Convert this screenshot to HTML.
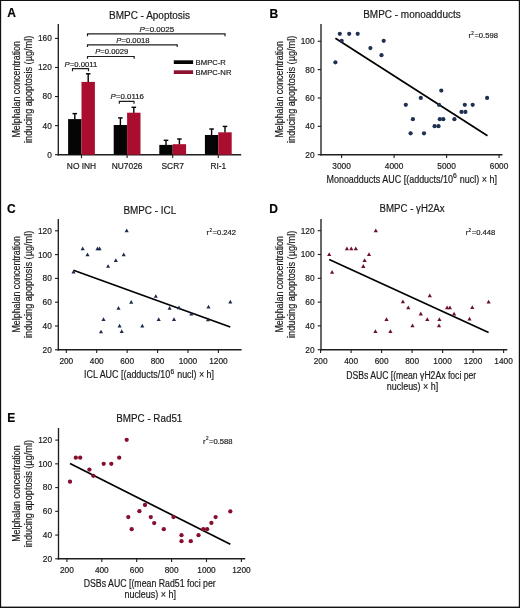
<!DOCTYPE html>
<html><head><meta charset="utf-8"><title>BMPC figure</title>
<style>
html,body{margin:0;padding:0;background:#fff;}
body{width:520px;height:608px;overflow:hidden;}
svg{display:block;font-family:"Liberation Sans", sans-serif;will-change:transform;}
text{stroke:#1a1a1a;stroke-width:0.18px;}
</style></head>
<body>
<svg width="520" height="608" viewBox="0 0 520 608">
<rect x="0" y="0" width="520" height="608" fill="#fff"/>
<rect x="0" y="0" width="520" height="1" fill="#111"/>
<rect x="0" y="0" width="1.15" height="608" fill="#111"/>
<rect x="518.8" y="0" width="1.2" height="608" fill="#111"/>
<rect x="0" y="606.6" width="520" height="1.4" fill="#111"/>
<text x="7.2" y="17.4" font-size="12" text-anchor="start" font-weight="bold" font-style="normal" fill="#000">A</text>
<text x="109" y="18.9" font-size="10" text-anchor="start" font-weight="normal" font-style="normal" fill="#1a1a1a" textLength="81" lengthAdjust="spacingAndGlyphs">BMPC - Apoptosis</text>
<text transform="translate(20.2,89.3) rotate(-90)" font-size="10" text-anchor="middle" fill="#1a1a1a" textLength="96.5" lengthAdjust="spacingAndGlyphs">Melphalan concentration</text>
<text transform="translate(31.6,89.3) rotate(-90)" font-size="10" text-anchor="middle" fill="#1a1a1a" textLength="107.3" lengthAdjust="spacingAndGlyphs">inducing apoptosis (µg/ml)</text>
<line x1="58.3" y1="24" x2="58.3" y2="155.375" stroke="#1e1e1e" stroke-width="1.35"/>
<line x1="55.0" y1="154.7" x2="58.3" y2="154.7" stroke="#1e1e1e" stroke-width="1.1"/>
<text x="51.8" y="157.6" font-size="8.3" text-anchor="end" font-weight="normal" font-style="normal" fill="#1a1a1a">0</text>
<line x1="55.0" y1="125.62799999999999" x2="58.3" y2="125.62799999999999" stroke="#1e1e1e" stroke-width="1.1"/>
<text x="51.8" y="128.53" font-size="8.3" text-anchor="end" font-weight="normal" font-style="normal" fill="#1a1a1a">40</text>
<line x1="55.0" y1="96.55599999999998" x2="58.3" y2="96.55599999999998" stroke="#1e1e1e" stroke-width="1.1"/>
<text x="51.8" y="99.46" font-size="8.3" text-anchor="end" font-weight="normal" font-style="normal" fill="#1a1a1a">80</text>
<line x1="55.0" y1="67.484" x2="58.3" y2="67.484" stroke="#1e1e1e" stroke-width="1.1"/>
<text x="51.8" y="70.38" font-size="8.3" text-anchor="end" font-weight="normal" font-style="normal" fill="#1a1a1a">120</text>
<line x1="55.0" y1="38.41199999999999" x2="58.3" y2="38.41199999999999" stroke="#1e1e1e" stroke-width="1.1"/>
<text x="51.8" y="41.31" font-size="8.3" text-anchor="end" font-weight="normal" font-style="normal" fill="#1a1a1a">160</text>
<line x1="57.574999999999996" y1="154.7" x2="241.2" y2="154.7" stroke="#1e1e1e" stroke-width="1.45"/>
<line x1="81.5" y1="154.7" x2="81.5" y2="158.1" stroke="#1e1e1e" stroke-width="1.1"/>
<text x="81.5" y="169.2" font-size="8.4" text-anchor="middle" font-weight="normal" font-style="normal" fill="#1a1a1a">NO INH</text>
<line x1="127.1" y1="154.7" x2="127.1" y2="158.1" stroke="#1e1e1e" stroke-width="1.1"/>
<text x="127.1" y="169.2" font-size="8.4" text-anchor="middle" font-weight="normal" font-style="normal" fill="#1a1a1a">NU7026</text>
<line x1="172.7" y1="154.7" x2="172.7" y2="158.1" stroke="#1e1e1e" stroke-width="1.1"/>
<text x="172.7" y="169.2" font-size="8.4" text-anchor="middle" font-weight="normal" font-style="normal" fill="#1a1a1a">SCR7</text>
<line x1="218.3" y1="154.7" x2="218.3" y2="158.1" stroke="#1e1e1e" stroke-width="1.1"/>
<text x="218.3" y="169.2" font-size="8.4" text-anchor="middle" font-weight="normal" font-style="normal" fill="#1a1a1a">RI-1</text>
<line x1="74.8" y1="119.6" x2="74.8" y2="113.6" stroke="#000" stroke-width="1.4"/>
<line x1="72.5" y1="113.6" x2="77.1" y2="113.6" stroke="#000" stroke-width="1.4"/>
<line x1="88.2" y1="82.4" x2="88.2" y2="73.8" stroke="#000" stroke-width="1.4"/>
<line x1="85.9" y1="73.8" x2="90.5" y2="73.8" stroke="#000" stroke-width="1.4"/>
<rect x="68.1" y="119.1" width="13.4" height="35.599999999999994" fill="#050505"/>
<rect x="81.5" y="81.9" width="13.4" height="72.79999999999998" fill="#aa0e2f"/>
<line x1="120.39999999999999" y1="125.5" x2="120.39999999999999" y2="117.9" stroke="#000" stroke-width="1.4"/>
<line x1="118.1" y1="117.9" x2="122.69999999999999" y2="117.9" stroke="#000" stroke-width="1.4"/>
<line x1="133.79999999999998" y1="113.2" x2="133.79999999999998" y2="107.3" stroke="#000" stroke-width="1.4"/>
<line x1="131.49999999999997" y1="107.3" x2="136.1" y2="107.3" stroke="#000" stroke-width="1.4"/>
<rect x="113.69999999999999" y="125.0" width="13.4" height="29.69999999999999" fill="#050505"/>
<rect x="127.1" y="112.7" width="13.4" height="41.999999999999986" fill="#aa0e2f"/>
<line x1="166.0" y1="145.4" x2="166.0" y2="140.3" stroke="#000" stroke-width="1.4"/>
<line x1="163.7" y1="140.3" x2="168.3" y2="140.3" stroke="#000" stroke-width="1.4"/>
<line x1="179.39999999999998" y1="144.7" x2="179.39999999999998" y2="139.0" stroke="#000" stroke-width="1.4"/>
<line x1="177.09999999999997" y1="139.0" x2="181.7" y2="139.0" stroke="#000" stroke-width="1.4"/>
<rect x="159.29999999999998" y="144.9" width="13.4" height="9.799999999999983" fill="#050505"/>
<rect x="172.7" y="144.2" width="13.4" height="10.5" fill="#aa0e2f"/>
<line x1="211.60000000000002" y1="135.5" x2="211.60000000000002" y2="129.0" stroke="#000" stroke-width="1.4"/>
<line x1="209.3" y1="129.0" x2="213.90000000000003" y2="129.0" stroke="#000" stroke-width="1.4"/>
<line x1="225.0" y1="132.8" x2="225.0" y2="126.4" stroke="#000" stroke-width="1.4"/>
<line x1="222.7" y1="126.4" x2="227.3" y2="126.4" stroke="#000" stroke-width="1.4"/>
<rect x="204.9" y="135.0" width="13.4" height="19.69999999999999" fill="#050505"/>
<rect x="218.3" y="132.3" width="13.4" height="22.399999999999977" fill="#aa0e2f"/>
<path d="M72.5 71.19999999999999 V68.6 H88.5 V71.19999999999999" fill="none" stroke="#1e1e1e" stroke-width="1.2"/>
<path d="M119.3 103.80000000000001 V101.4 H134 V103.80000000000001" fill="none" stroke="#1e1e1e" stroke-width="1.2"/>
<path d="M87.5 58.8 V56.5 H134.2 V58.8" fill="none" stroke="#1e1e1e" stroke-width="1.2"/>
<path d="M87.5 47.099999999999994 V44.8 H177.2 V47.099999999999994" fill="none" stroke="#1e1e1e" stroke-width="1.2"/>
<path d="M87.5 36.199999999999996 V33.9 H225 V36.199999999999996" fill="none" stroke="#1e1e1e" stroke-width="1.2"/>
<text x="64.6" y="66.8" font-size="7.5" fill="#1a1a1a" textLength="32.6" lengthAdjust="spacingAndGlyphs"><tspan font-style="italic">P</tspan>=0.0011</text>
<text x="110.6" y="98.7" font-size="7.5" fill="#1a1a1a" textLength="33.4" lengthAdjust="spacingAndGlyphs"><tspan font-style="italic">P</tspan>=0.0116</text>
<text x="95.2" y="54.0" font-size="7.5" fill="#1a1a1a" textLength="33.0" lengthAdjust="spacingAndGlyphs"><tspan font-style="italic">P</tspan>=0.0029</text>
<text x="116.3" y="42.5" font-size="7.5" fill="#1a1a1a" textLength="33.2" lengthAdjust="spacingAndGlyphs"><tspan font-style="italic">P</tspan>=0.0018</text>
<text x="139.6" y="31.5" font-size="7.5" fill="#1a1a1a" textLength="34.6" lengthAdjust="spacingAndGlyphs"><tspan font-style="italic">P</tspan>=0.0025</text>
<rect x="173.8" y="60.3" width="19.3" height="3.7" fill="#050505"/>
<rect x="173.8" y="70.3" width="19.3" height="3.7" fill="#8e1230"/>
<text x="195.6" y="64.8" font-size="7.7" text-anchor="start" font-weight="normal" font-style="normal" fill="#1a1a1a">BMPC-R</text>
<text x="195.6" y="74.8" font-size="7.7" text-anchor="start" font-weight="normal" font-style="normal" fill="#1a1a1a">BMPC-NR</text>
<text x="269.6" y="17.5" font-size="12" text-anchor="start" font-weight="bold" font-style="normal" fill="#000">B</text>
<text x="363.2" y="18.2" font-size="10" text-anchor="start" font-weight="normal" font-style="normal" fill="#1a1a1a" textLength="97.5" lengthAdjust="spacingAndGlyphs">BMPC - monoadducts</text>
<text transform="translate(283.2,89.3) rotate(-90)" font-size="10" text-anchor="middle" fill="#1a1a1a" textLength="96.5" lengthAdjust="spacingAndGlyphs">Melphalan concentration</text>
<text transform="translate(294.6,89.3) rotate(-90)" font-size="10" text-anchor="middle" fill="#1a1a1a" textLength="107.3" lengthAdjust="spacingAndGlyphs">inducing apoptosis (µg/ml)</text>
<line x1="321" y1="24" x2="321" y2="155.375" stroke="#1e1e1e" stroke-width="1.35"/>
<line x1="317.7" y1="154.7" x2="321" y2="154.7" stroke="#1e1e1e" stroke-width="1.1"/>
<text x="314.5" y="157.6" font-size="8.3" text-anchor="end" font-weight="normal" font-style="normal" fill="#1a1a1a">20</text>
<line x1="317.7" y1="126.33999999999999" x2="321" y2="126.33999999999999" stroke="#1e1e1e" stroke-width="1.1"/>
<text x="314.5" y="129.24" font-size="8.3" text-anchor="end" font-weight="normal" font-style="normal" fill="#1a1a1a">40</text>
<line x1="317.7" y1="97.97999999999999" x2="321" y2="97.97999999999999" stroke="#1e1e1e" stroke-width="1.1"/>
<text x="314.5" y="100.88" font-size="8.3" text-anchor="end" font-weight="normal" font-style="normal" fill="#1a1a1a">60</text>
<line x1="317.7" y1="69.61999999999999" x2="321" y2="69.61999999999999" stroke="#1e1e1e" stroke-width="1.1"/>
<text x="314.5" y="72.52" font-size="8.3" text-anchor="end" font-weight="normal" font-style="normal" fill="#1a1a1a">80</text>
<line x1="317.7" y1="41.25999999999999" x2="321" y2="41.25999999999999" stroke="#1e1e1e" stroke-width="1.1"/>
<text x="314.5" y="44.16" font-size="8.3" text-anchor="end" font-weight="normal" font-style="normal" fill="#1a1a1a">100</text>
<line x1="320.275" y1="154.7" x2="502.5" y2="154.7" stroke="#1e1e1e" stroke-width="1.45"/>
<line x1="341.6" y1="154.7" x2="341.6" y2="158.0" stroke="#1e1e1e" stroke-width="1.1"/>
<text x="341.6" y="168.5" font-size="8.3" text-anchor="middle" font-weight="normal" font-style="normal" fill="#1a1a1a">3000</text>
<line x1="394.1" y1="154.7" x2="394.1" y2="158.0" stroke="#1e1e1e" stroke-width="1.1"/>
<text x="394.1" y="168.5" font-size="8.3" text-anchor="middle" font-weight="normal" font-style="normal" fill="#1a1a1a">4000</text>
<line x1="446.6" y1="154.7" x2="446.6" y2="158.0" stroke="#1e1e1e" stroke-width="1.1"/>
<text x="446.6" y="168.5" font-size="8.3" text-anchor="middle" font-weight="normal" font-style="normal" fill="#1a1a1a">5000</text>
<line x1="499.1" y1="154.7" x2="499.1" y2="158.0" stroke="#1e1e1e" stroke-width="1.1"/>
<text x="499.1" y="168.5" font-size="8.3" text-anchor="middle" font-weight="normal" font-style="normal" fill="#1a1a1a">6000</text>
<text x="326.45" y="182.6" font-size="10" fill="#1a1a1a" textLength="126.6" lengthAdjust="spacingAndGlyphs">Monoadducts AUC [(adducts/10</text>
<text x="453.1" y="178.3" font-size="6.8" text-anchor="start" font-weight="normal" font-style="normal" fill="#1a1a1a">6</text>
<text x="459.8" y="182.6" font-size="10" fill="#1a1a1a" textLength="37.3" lengthAdjust="spacingAndGlyphs">nucl) × h]</text>
<line x1="335.4" y1="38.3" x2="487.5" y2="135.8" stroke="#000" stroke-width="1.7"/>
<circle cx="339.8" cy="33.8" r="2.1" fill="#1f3050"/>
<circle cx="349.2" cy="33.8" r="2.1" fill="#1f3050"/>
<circle cx="357.7" cy="33.8" r="2.1" fill="#1f3050"/>
<circle cx="341.7" cy="40.8" r="2.1" fill="#1f3050"/>
<circle cx="383.7" cy="40.8" r="2.1" fill="#1f3050"/>
<circle cx="370.4" cy="48.1" r="2.1" fill="#1f3050"/>
<circle cx="381.5" cy="55.2" r="2.1" fill="#1f3050"/>
<circle cx="335.4" cy="62.3" r="2.1" fill="#1f3050"/>
<circle cx="441.3" cy="90.6" r="2.1" fill="#1f3050"/>
<circle cx="420.8" cy="97.9" r="2.1" fill="#1f3050"/>
<circle cx="487.1" cy="97.9" r="2.1" fill="#1f3050"/>
<circle cx="405.8" cy="104.8" r="2.1" fill="#1f3050"/>
<circle cx="439" cy="104.8" r="2.1" fill="#1f3050"/>
<circle cx="464.8" cy="104.8" r="2.1" fill="#1f3050"/>
<circle cx="472.7" cy="104.8" r="2.1" fill="#1f3050"/>
<circle cx="461.5" cy="111.9" r="2.1" fill="#1f3050"/>
<circle cx="465.4" cy="111.9" r="2.1" fill="#1f3050"/>
<circle cx="412.9" cy="119.2" r="2.1" fill="#1f3050"/>
<circle cx="439.8" cy="119.2" r="2.1" fill="#1f3050"/>
<circle cx="443.3" cy="119.2" r="2.1" fill="#1f3050"/>
<circle cx="454.4" cy="119.2" r="2.1" fill="#1f3050"/>
<circle cx="434.6" cy="126.2" r="2.1" fill="#1f3050"/>
<circle cx="438.5" cy="126.2" r="2.1" fill="#1f3050"/>
<circle cx="410.6" cy="133.3" r="2.1" fill="#1f3050"/>
<circle cx="424" cy="133.3" r="2.1" fill="#1f3050"/>
<text x="468.4" y="37.7" font-size="7.6" fill="#1a1a1a">r</text>
<text x="471.30" y="34.60" font-size="4.56" fill="#1a1a1a">2</text>
<text x="474.40" y="37.7" font-size="7.6" fill="#1a1a1a" textLength="23.6" lengthAdjust="spacingAndGlyphs">=0.598</text>
<text x="6.9" y="212.7" font-size="12" text-anchor="start" font-weight="bold" font-style="normal" fill="#000">C</text>
<text x="123.4" y="213.5" font-size="10" text-anchor="start" font-weight="normal" font-style="normal" fill="#1a1a1a" textLength="52.8" lengthAdjust="spacingAndGlyphs">BMPC - ICL</text>
<text transform="translate(20.2,284.3) rotate(-90)" font-size="10" text-anchor="middle" fill="#1a1a1a" textLength="96.5" lengthAdjust="spacingAndGlyphs">Melphalan concentration</text>
<text transform="translate(31.6,284.3) rotate(-90)" font-size="10" text-anchor="middle" fill="#1a1a1a" textLength="107.3" lengthAdjust="spacingAndGlyphs">inducing apoptosis (µg/ml)</text>
<line x1="58.3" y1="219" x2="58.3" y2="350.475" stroke="#1e1e1e" stroke-width="1.35"/>
<line x1="55.0" y1="349.8" x2="58.3" y2="349.8" stroke="#1e1e1e" stroke-width="1.1"/>
<text x="51.8" y="352.7" font-size="8.3" text-anchor="end" font-weight="normal" font-style="normal" fill="#1a1a1a">20</text>
<line x1="55.0" y1="326.0" x2="58.3" y2="326.0" stroke="#1e1e1e" stroke-width="1.1"/>
<text x="51.8" y="328.9" font-size="8.3" text-anchor="end" font-weight="normal" font-style="normal" fill="#1a1a1a">40</text>
<line x1="55.0" y1="302.20000000000005" x2="58.3" y2="302.20000000000005" stroke="#1e1e1e" stroke-width="1.1"/>
<text x="51.8" y="305.1" font-size="8.3" text-anchor="end" font-weight="normal" font-style="normal" fill="#1a1a1a">60</text>
<line x1="55.0" y1="278.40000000000003" x2="58.3" y2="278.40000000000003" stroke="#1e1e1e" stroke-width="1.1"/>
<text x="51.8" y="281.3" font-size="8.3" text-anchor="end" font-weight="normal" font-style="normal" fill="#1a1a1a">80</text>
<line x1="55.0" y1="254.60000000000002" x2="58.3" y2="254.60000000000002" stroke="#1e1e1e" stroke-width="1.1"/>
<text x="51.8" y="257.5" font-size="8.3" text-anchor="end" font-weight="normal" font-style="normal" fill="#1a1a1a">100</text>
<line x1="55.0" y1="230.8" x2="58.3" y2="230.8" stroke="#1e1e1e" stroke-width="1.1"/>
<text x="51.8" y="233.7" font-size="8.3" text-anchor="end" font-weight="normal" font-style="normal" fill="#1a1a1a">120</text>
<line x1="57.574999999999996" y1="349.8" x2="241.6" y2="349.8" stroke="#1e1e1e" stroke-width="1.45"/>
<line x1="66.3" y1="349.8" x2="66.3" y2="353.1" stroke="#1e1e1e" stroke-width="1.1"/>
<text x="66.3" y="364.0" font-size="8.3" text-anchor="middle" font-weight="normal" font-style="normal" fill="#1a1a1a">200</text>
<line x1="96.72" y1="349.8" x2="96.72" y2="353.1" stroke="#1e1e1e" stroke-width="1.1"/>
<text x="96.72" y="364.0" font-size="8.3" text-anchor="middle" font-weight="normal" font-style="normal" fill="#1a1a1a">400</text>
<line x1="127.14" y1="349.8" x2="127.14" y2="353.1" stroke="#1e1e1e" stroke-width="1.1"/>
<text x="127.14" y="364.0" font-size="8.3" text-anchor="middle" font-weight="normal" font-style="normal" fill="#1a1a1a">600</text>
<line x1="157.56" y1="349.8" x2="157.56" y2="353.1" stroke="#1e1e1e" stroke-width="1.1"/>
<text x="157.56" y="364.0" font-size="8.3" text-anchor="middle" font-weight="normal" font-style="normal" fill="#1a1a1a">800</text>
<line x1="187.98000000000002" y1="349.8" x2="187.98000000000002" y2="353.1" stroke="#1e1e1e" stroke-width="1.1"/>
<text x="187.98000000000002" y="364.0" font-size="8.3" text-anchor="middle" font-weight="normal" font-style="normal" fill="#1a1a1a">1000</text>
<line x1="218.40000000000003" y1="349.8" x2="218.40000000000003" y2="353.1" stroke="#1e1e1e" stroke-width="1.1"/>
<text x="218.40000000000003" y="364.0" font-size="8.3" text-anchor="middle" font-weight="normal" font-style="normal" fill="#1a1a1a">1200</text>
<text x="84.1" y="378.1" font-size="10" fill="#1a1a1a" textLength="86" lengthAdjust="spacingAndGlyphs">ICL AUC [(adducts/10</text>
<text x="170.4" y="374.3" font-size="6.8" text-anchor="start" font-weight="normal" font-style="normal" fill="#1a1a1a">6</text>
<text x="177.2" y="378.1" font-size="10" fill="#1a1a1a" textLength="36.8" lengthAdjust="spacingAndGlyphs">nucl) × h]</text>
<line x1="73.5" y1="270.2" x2="230.3" y2="327" stroke="#000" stroke-width="1.7"/>
<path d="M71.45 273.55 L73.50 269.85 L75.55 273.55Z" fill="#1c2a4c"/>
<path d="M80.65 250.15 L82.70 246.46 L84.75 250.15Z" fill="#1c2a4c"/>
<path d="M85.45 256.25 L87.50 252.56 L89.55 256.25Z" fill="#1c2a4c"/>
<path d="M95.45 250.15 L97.50 246.46 L99.55 250.15Z" fill="#1c2a4c"/>
<path d="M97.55 250.15 L99.60 246.46 L101.65 250.15Z" fill="#1c2a4c"/>
<path d="M124.65 232.25 L126.70 228.56 L128.75 232.25Z" fill="#1c2a4c"/>
<path d="M121.65 256.25 L123.70 252.56 L125.75 256.25Z" fill="#1c2a4c"/>
<path d="M113.75 262.05 L115.80 258.35 L117.85 262.05Z" fill="#1c2a4c"/>
<path d="M106.05 267.85 L108.10 264.15 L110.15 267.85Z" fill="#1c2a4c"/>
<path d="M153.75 297.85 L155.80 294.15 L157.85 297.85Z" fill="#1c2a4c"/>
<path d="M129.15 303.75 L131.20 300.05 L133.25 303.75Z" fill="#1c2a4c"/>
<path d="M116.45 309.75 L118.50 306.05 L120.55 309.75Z" fill="#1c2a4c"/>
<path d="M167.55 309.75 L169.60 306.05 L171.65 309.75Z" fill="#1c2a4c"/>
<path d="M176.95 309.15 L179.00 305.45 L181.05 309.15Z" fill="#1c2a4c"/>
<path d="M189.25 315.55 L191.30 311.85 L193.35 315.55Z" fill="#1c2a4c"/>
<path d="M101.45 321.05 L103.50 317.35 L105.55 321.05Z" fill="#1c2a4c"/>
<path d="M156.65 321.05 L158.70 317.35 L160.75 321.05Z" fill="#1c2a4c"/>
<path d="M171.95 321.05 L174.00 317.35 L176.05 321.05Z" fill="#1c2a4c"/>
<path d="M117.55 327.45 L119.60 323.75 L121.65 327.45Z" fill="#1c2a4c"/>
<path d="M140.25 327.45 L142.30 323.75 L144.35 327.45Z" fill="#1c2a4c"/>
<path d="M98.95 333.35 L101.00 329.65 L103.05 333.35Z" fill="#1c2a4c"/>
<path d="M119.65 333.05 L121.70 329.35 L123.75 333.05Z" fill="#1c2a4c"/>
<path d="M228.25 303.45 L230.30 299.75 L232.35 303.45Z" fill="#1c2a4c"/>
<path d="M206.45 308.55 L208.50 304.85 L210.55 308.55Z" fill="#1c2a4c"/>
<path d="M205.95 321.25 L208.00 317.55 L210.05 321.25Z" fill="#1c2a4c"/>
<text x="206.5" y="235.3" font-size="7.6" fill="#1a1a1a">r</text>
<text x="209.40" y="232.20" font-size="4.56" fill="#1a1a1a">2</text>
<text x="212.50" y="235.3" font-size="7.6" fill="#1a1a1a" textLength="23.6" lengthAdjust="spacingAndGlyphs">=0.242</text>
<text x="269.3" y="212.7" font-size="12" text-anchor="start" font-weight="bold" font-style="normal" fill="#000">D</text>
<text x="379.6" y="212.4" font-size="10" text-anchor="start" font-weight="normal" font-style="normal" fill="#1a1a1a" textLength="65" lengthAdjust="spacingAndGlyphs">BMPC - γH2Ax</text>
<text transform="translate(283.2,284.3) rotate(-90)" font-size="10" text-anchor="middle" fill="#1a1a1a" textLength="96.5" lengthAdjust="spacingAndGlyphs">Melphalan concentration</text>
<text transform="translate(294.6,284.3) rotate(-90)" font-size="10" text-anchor="middle" fill="#1a1a1a" textLength="107.3" lengthAdjust="spacingAndGlyphs">inducing apoptosis (µg/ml)</text>
<line x1="321" y1="219" x2="321" y2="350.375" stroke="#1e1e1e" stroke-width="1.35"/>
<line x1="317.7" y1="349.7" x2="321" y2="349.7" stroke="#1e1e1e" stroke-width="1.1"/>
<text x="314.5" y="352.6" font-size="8.3" text-anchor="end" font-weight="normal" font-style="normal" fill="#1a1a1a">20</text>
<line x1="317.7" y1="325.9" x2="321" y2="325.9" stroke="#1e1e1e" stroke-width="1.1"/>
<text x="314.5" y="328.8" font-size="8.3" text-anchor="end" font-weight="normal" font-style="normal" fill="#1a1a1a">40</text>
<line x1="317.7" y1="302.1" x2="321" y2="302.1" stroke="#1e1e1e" stroke-width="1.1"/>
<text x="314.5" y="305.0" font-size="8.3" text-anchor="end" font-weight="normal" font-style="normal" fill="#1a1a1a">60</text>
<line x1="317.7" y1="278.3" x2="321" y2="278.3" stroke="#1e1e1e" stroke-width="1.1"/>
<text x="314.5" y="281.2" font-size="8.3" text-anchor="end" font-weight="normal" font-style="normal" fill="#1a1a1a">80</text>
<line x1="317.7" y1="254.5" x2="321" y2="254.5" stroke="#1e1e1e" stroke-width="1.1"/>
<text x="314.5" y="257.4" font-size="8.3" text-anchor="end" font-weight="normal" font-style="normal" fill="#1a1a1a">100</text>
<line x1="317.7" y1="230.7" x2="321" y2="230.7" stroke="#1e1e1e" stroke-width="1.1"/>
<text x="314.5" y="233.6" font-size="8.3" text-anchor="end" font-weight="normal" font-style="normal" fill="#1a1a1a">120</text>
<line x1="320.275" y1="349.7" x2="507.3" y2="349.7" stroke="#1e1e1e" stroke-width="1.45"/>
<line x1="320.6" y1="349.7" x2="320.6" y2="353.0" stroke="#1e1e1e" stroke-width="1.1"/>
<text x="320.6" y="363.5" font-size="8.3" text-anchor="middle" font-weight="normal" font-style="normal" fill="#1a1a1a">200</text>
<line x1="351.1" y1="349.7" x2="351.1" y2="353.0" stroke="#1e1e1e" stroke-width="1.1"/>
<text x="351.1" y="363.5" font-size="8.3" text-anchor="middle" font-weight="normal" font-style="normal" fill="#1a1a1a">400</text>
<line x1="381.6" y1="349.7" x2="381.6" y2="353.0" stroke="#1e1e1e" stroke-width="1.1"/>
<text x="381.6" y="363.5" font-size="8.3" text-anchor="middle" font-weight="normal" font-style="normal" fill="#1a1a1a">600</text>
<line x1="412.1" y1="349.7" x2="412.1" y2="353.0" stroke="#1e1e1e" stroke-width="1.1"/>
<text x="412.1" y="363.5" font-size="8.3" text-anchor="middle" font-weight="normal" font-style="normal" fill="#1a1a1a">800</text>
<line x1="442.6" y1="349.7" x2="442.6" y2="353.0" stroke="#1e1e1e" stroke-width="1.1"/>
<text x="442.6" y="363.5" font-size="8.3" text-anchor="middle" font-weight="normal" font-style="normal" fill="#1a1a1a">1000</text>
<line x1="473.1" y1="349.7" x2="473.1" y2="353.0" stroke="#1e1e1e" stroke-width="1.1"/>
<text x="473.1" y="363.5" font-size="8.3" text-anchor="middle" font-weight="normal" font-style="normal" fill="#1a1a1a">1200</text>
<line x1="503.6" y1="349.7" x2="503.6" y2="353.0" stroke="#1e1e1e" stroke-width="1.1"/>
<text x="503.6" y="363.5" font-size="8.3" text-anchor="middle" font-weight="normal" font-style="normal" fill="#1a1a1a">1400</text>
<text x="411.2" y="378.6" font-size="10" text-anchor="middle" font-weight="normal" font-style="normal" fill="#1a1a1a" textLength="130" lengthAdjust="spacingAndGlyphs">DSBs AUC [(mean γH2Ax foci per</text>
<text x="412.5" y="389.5" font-size="10" text-anchor="middle" font-weight="normal" font-style="normal" fill="#1a1a1a" textLength="51.5" lengthAdjust="spacingAndGlyphs">nucleus) × h]</text>
<line x1="329.2" y1="259.6" x2="488.6" y2="332.5" stroke="#000" stroke-width="1.7"/>
<path d="M327.10 256.09 L329.20 252.31 L331.30 256.09Z" fill="#6c0e2d"/>
<path d="M330.00 273.79 L332.10 270.01 L334.20 273.79Z" fill="#6c0e2d"/>
<path d="M344.80 250.19 L346.90 246.41 L349.00 250.19Z" fill="#6c0e2d"/>
<path d="M349.20 250.19 L351.30 246.41 L353.40 250.19Z" fill="#6c0e2d"/>
<path d="M353.70 250.19 L355.80 246.41 L357.90 250.19Z" fill="#6c0e2d"/>
<path d="M373.70 232.29 L375.80 228.51 L377.90 232.29Z" fill="#6c0e2d"/>
<path d="M366.90 256.09 L369.00 252.31 L371.10 256.09Z" fill="#6c0e2d"/>
<path d="M362.50 262.09 L364.60 258.31 L366.70 262.09Z" fill="#6c0e2d"/>
<path d="M361.20 267.89 L363.30 264.11 L365.40 267.89Z" fill="#6c0e2d"/>
<path d="M373.30 333.09 L375.40 329.31 L377.50 333.09Z" fill="#6c0e2d"/>
<path d="M384.40 321.09 L386.50 317.31 L388.60 321.09Z" fill="#6c0e2d"/>
<path d="M388.30 333.09 L390.40 329.31 L392.50 333.09Z" fill="#6c0e2d"/>
<path d="M400.80 303.19 L402.90 299.41 L405.00 303.19Z" fill="#6c0e2d"/>
<path d="M406.20 309.19 L408.30 305.41 L410.40 309.19Z" fill="#6c0e2d"/>
<path d="M410.40 327.29 L412.50 323.51 L414.60 327.29Z" fill="#6c0e2d"/>
<path d="M418.70 315.39 L420.80 311.61 L422.90 315.39Z" fill="#6c0e2d"/>
<path d="M425.20 321.09 L427.30 317.31 L429.40 321.09Z" fill="#6c0e2d"/>
<path d="M427.70 297.29 L429.80 293.51 L431.90 297.29Z" fill="#6c0e2d"/>
<path d="M437.30 321.09 L439.40 317.31 L441.50 321.09Z" fill="#6c0e2d"/>
<path d="M436.90 327.29 L439.00 323.51 L441.10 327.29Z" fill="#6c0e2d"/>
<path d="M445.00 309.19 L447.10 305.41 L449.20 309.19Z" fill="#6c0e2d"/>
<path d="M447.80 309.19 L449.90 305.41 L452.00 309.19Z" fill="#6c0e2d"/>
<path d="M452.00 315.49 L454.10 311.71 L456.20 315.49Z" fill="#6c0e2d"/>
<path d="M467.40 320.59 L469.50 316.81 L471.60 320.59Z" fill="#6c0e2d"/>
<path d="M470.20 308.99 L472.30 305.21 L474.40 308.99Z" fill="#6c0e2d"/>
<path d="M486.50 303.49 L488.60 299.71 L490.70 303.49Z" fill="#6c0e2d"/>
<text x="465.7" y="235.3" font-size="7.6" fill="#1a1a1a">r</text>
<text x="468.60" y="232.20" font-size="4.56" fill="#1a1a1a">2</text>
<text x="471.70" y="235.3" font-size="7.6" fill="#1a1a1a" textLength="23.6" lengthAdjust="spacingAndGlyphs">=0.448</text>
<text x="7.3" y="422.1" font-size="12" text-anchor="start" font-weight="bold" font-style="normal" fill="#000">E</text>
<text x="116.3" y="422.4" font-size="10" text-anchor="start" font-weight="normal" font-style="normal" fill="#1a1a1a" textLength="66" lengthAdjust="spacingAndGlyphs">BMPC - Rad51</text>
<text transform="translate(20.2,493.6) rotate(-90)" font-size="10" text-anchor="middle" fill="#1a1a1a" textLength="96.5" lengthAdjust="spacingAndGlyphs">Melphalan concentration</text>
<text transform="translate(31.6,493.6) rotate(-90)" font-size="10" text-anchor="middle" fill="#1a1a1a" textLength="107.3" lengthAdjust="spacingAndGlyphs">inducing apoptosis (µg/ml)</text>
<line x1="58.5" y1="428.0" x2="58.5" y2="559.4749999999999" stroke="#1e1e1e" stroke-width="1.35"/>
<line x1="55.2" y1="558.8" x2="58.5" y2="558.8" stroke="#1e1e1e" stroke-width="1.1"/>
<text x="52.0" y="561.7" font-size="8.3" text-anchor="end" font-weight="normal" font-style="normal" fill="#1a1a1a">20</text>
<line x1="55.2" y1="535.06" x2="58.5" y2="535.06" stroke="#1e1e1e" stroke-width="1.1"/>
<text x="52.0" y="537.96" font-size="8.3" text-anchor="end" font-weight="normal" font-style="normal" fill="#1a1a1a">40</text>
<line x1="55.2" y1="511.31999999999994" x2="58.5" y2="511.31999999999994" stroke="#1e1e1e" stroke-width="1.1"/>
<text x="52.0" y="514.22" font-size="8.3" text-anchor="end" font-weight="normal" font-style="normal" fill="#1a1a1a">60</text>
<line x1="55.2" y1="487.5799999999999" x2="58.5" y2="487.5799999999999" stroke="#1e1e1e" stroke-width="1.1"/>
<text x="52.0" y="490.48" font-size="8.3" text-anchor="end" font-weight="normal" font-style="normal" fill="#1a1a1a">80</text>
<line x1="55.2" y1="463.8399999999999" x2="58.5" y2="463.8399999999999" stroke="#1e1e1e" stroke-width="1.1"/>
<text x="52.0" y="466.74" font-size="8.3" text-anchor="end" font-weight="normal" font-style="normal" fill="#1a1a1a">100</text>
<line x1="55.2" y1="440.09999999999997" x2="58.5" y2="440.09999999999997" stroke="#1e1e1e" stroke-width="1.1"/>
<text x="52.0" y="443.0" font-size="8.3" text-anchor="end" font-weight="normal" font-style="normal" fill="#1a1a1a">120</text>
<line x1="57.775" y1="558.8" x2="245.2" y2="558.8" stroke="#1e1e1e" stroke-width="1.45"/>
<line x1="66.9" y1="558.8" x2="66.9" y2="562.0999999999999" stroke="#1e1e1e" stroke-width="1.1"/>
<text x="66.9" y="572.7" font-size="8.3" text-anchor="middle" font-weight="normal" font-style="normal" fill="#1a1a1a">200</text>
<line x1="101.80000000000001" y1="558.8" x2="101.80000000000001" y2="562.0999999999999" stroke="#1e1e1e" stroke-width="1.1"/>
<text x="101.80000000000001" y="572.7" font-size="8.3" text-anchor="middle" font-weight="normal" font-style="normal" fill="#1a1a1a">400</text>
<line x1="136.7" y1="558.8" x2="136.7" y2="562.0999999999999" stroke="#1e1e1e" stroke-width="1.1"/>
<text x="136.7" y="572.7" font-size="8.3" text-anchor="middle" font-weight="normal" font-style="normal" fill="#1a1a1a">600</text>
<line x1="171.6" y1="558.8" x2="171.6" y2="562.0999999999999" stroke="#1e1e1e" stroke-width="1.1"/>
<text x="171.6" y="572.7" font-size="8.3" text-anchor="middle" font-weight="normal" font-style="normal" fill="#1a1a1a">800</text>
<line x1="206.5" y1="558.8" x2="206.5" y2="562.0999999999999" stroke="#1e1e1e" stroke-width="1.1"/>
<text x="206.5" y="572.7" font-size="8.3" text-anchor="middle" font-weight="normal" font-style="normal" fill="#1a1a1a">1000</text>
<line x1="241.4" y1="558.8" x2="241.4" y2="562.0999999999999" stroke="#1e1e1e" stroke-width="1.1"/>
<text x="241.4" y="572.7" font-size="8.3" text-anchor="middle" font-weight="normal" font-style="normal" fill="#1a1a1a">1200</text>
<text x="149.7" y="587.4" font-size="10" text-anchor="middle" font-weight="normal" font-style="normal" fill="#1a1a1a" textLength="132" lengthAdjust="spacingAndGlyphs">DSBs AUC [(mean Rad51 foci per</text>
<text x="150.2" y="598.3" font-size="10" text-anchor="middle" font-weight="normal" font-style="normal" fill="#1a1a1a" textLength="51.5" lengthAdjust="spacingAndGlyphs">nucleus) × h]</text>
<line x1="70" y1="463.5" x2="230.3" y2="544.3" stroke="#000" stroke-width="1.7"/>
<circle cx="70" cy="481.7" r="2.15" fill="#870f2e"/>
<circle cx="75.8" cy="457.7" r="2.15" fill="#870f2e"/>
<circle cx="80.2" cy="457.7" r="2.15" fill="#870f2e"/>
<circle cx="89.4" cy="469.6" r="2.15" fill="#870f2e"/>
<circle cx="93.3" cy="475.8" r="2.15" fill="#870f2e"/>
<circle cx="103.7" cy="463.8" r="2.15" fill="#870f2e"/>
<circle cx="111.3" cy="463.8" r="2.15" fill="#870f2e"/>
<circle cx="119.2" cy="457.7" r="2.15" fill="#870f2e"/>
<circle cx="126.7" cy="439.8" r="2.15" fill="#870f2e"/>
<circle cx="128.3" cy="517.1" r="2.15" fill="#870f2e"/>
<circle cx="131.7" cy="529.2" r="2.15" fill="#870f2e"/>
<circle cx="139.4" cy="511.2" r="2.15" fill="#870f2e"/>
<circle cx="145" cy="505" r="2.15" fill="#870f2e"/>
<circle cx="150.8" cy="517.1" r="2.15" fill="#870f2e"/>
<circle cx="154.2" cy="523.1" r="2.15" fill="#870f2e"/>
<circle cx="163.8" cy="529.2" r="2.15" fill="#870f2e"/>
<circle cx="173.5" cy="517.1" r="2.15" fill="#870f2e"/>
<circle cx="181.5" cy="535.2" r="2.15" fill="#870f2e"/>
<circle cx="181.5" cy="541.2" r="2.15" fill="#870f2e"/>
<circle cx="190.8" cy="541.2" r="2.15" fill="#870f2e"/>
<circle cx="198.5" cy="535.2" r="2.15" fill="#870f2e"/>
<circle cx="203.3" cy="529.2" r="2.15" fill="#870f2e"/>
<circle cx="207.1" cy="529.2" r="2.15" fill="#870f2e"/>
<circle cx="211.4" cy="522.9" r="2.15" fill="#870f2e"/>
<circle cx="215.6" cy="517.1" r="2.15" fill="#870f2e"/>
<circle cx="230.3" cy="511.4" r="2.15" fill="#870f2e"/>
<text x="203" y="443.5" font-size="7.6" fill="#1a1a1a">r</text>
<text x="205.90" y="440.40" font-size="4.56" fill="#1a1a1a">2</text>
<text x="209.00" y="443.5" font-size="7.6" fill="#1a1a1a" textLength="23.6" lengthAdjust="spacingAndGlyphs">=0.588</text>
</svg>
</body></html>
